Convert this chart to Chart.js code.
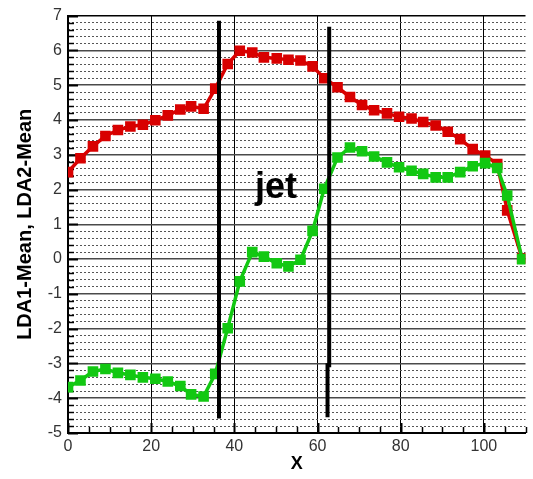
<!DOCTYPE html>
<html><head><meta charset="utf-8">
<script src="https://cdn.jsdelivr.net/npm/chart.js@4/dist/chart.umd.min.js"></script>
<style>html,body{margin:0;padding:0;background:#fff;}</style>
</head><body>
<canvas id="c" width="533" height="479"></canvas>
<script>
const xPositions = [0,3,6,9,12,15,18,21,24,27,29.6,32.6,35.4,38.4,41.3,44.3,47.1,50.2,53,55.9,58.8,61.6,64.8,67.8,70.7,73.6,76.7,79.6,82.6,85.4,88.4,91.3,94.3,97.3,100.3,103.2,105.6,109.2];
const lda1Mean = [2.5,2.9,3.24,3.54,3.71,3.81,3.86,3.99,4.13,4.3,4.39,4.32,4.9,5.61,5.99,5.94,5.8,5.77,5.73,5.71,5.54,5.2,4.94,4.66,4.43,4.28,4.19,4.09,4.04,3.94,3.84,3.66,3.45,3.16,2.98,2.73,1.4,0.02];
const lda2Mean = [-3.68,-3.49,-3.23,-3.16,-3.27,-3.33,-3.40,-3.44,-3.52,-3.65,-3.89,-3.95,-3.30,-1.99,-0.64,0.2,0.07,-0.12,-0.21,-0.02,0.81,2.02,2.92,3.21,3.1,2.95,2.78,2.64,2.54,2.45,2.35,2.35,2.5,2.67,2.76,2.62,1.83,0.0];
const jetLeftX = [36.3, 36.3];
const jetLeftY = [6.85, -4.58];
const jetRightX = [62.8, 62.8, 62.4, 62.4];
const jetRightY = [6.68, -3.05, -3.05, -4.55];
const jetLabel = {text: 'jet', x: 50, y: 1.75};
const xTickStep = 20, xMinorStep = 5;
const yTickStep = 1, yMinorStep = 0.2;
const xRange = [0, 110], yRange = [-5, 7];

const pts = (xs, ys) => xs.map((x, i) => ({x, y: ys[i]}));

const decor = {
  id: 'decor',
  beforeDatasetsDraw(chart) {
    const {ctx, chartArea: a, scales: {x, y}} = chart;
    ctx.save();
    ctx.strokeStyle = '#000';
    for (let v = xRange[0]; v <= xRange[1] + 1e-9; v += xMinorStep) {
      const px = Math.round(x.getPixelForValue(v)) + 0.5;
      const major = Math.abs(v % xTickStep) < 1e-9;
      ctx.lineWidth = major ? 2 : 1.5;
      ctx.beginPath(); ctx.moveTo(px, a.bottom); ctx.lineTo(px, a.bottom - (major ? 10 : 6)); ctx.stroke();
    }
    for (let k = 0; k <= Math.round((yRange[1] - yRange[0]) / yMinorStep); k++) {
      const v = yRange[0] + k * yMinorStep;
      const py = Math.round(y.getPixelForValue(v)) + 0.5;
      const major = Math.abs(v - Math.round(v)) < 1e-6;
      ctx.lineWidth = major ? 2 : 1.5;
      ctx.beginPath(); ctx.moveTo(a.left, py); ctx.lineTo(a.left + (major ? 10 : 6), py); ctx.stroke();
    }
    ctx.restore();
  },
  afterDatasetsDraw(chart) {
    const {ctx, scales: {x, y}} = chart;
    ctx.save();
    ctx.fillStyle = '#000';
    ctx.font = 'bold 36px "Liberation Sans", Arial, sans-serif';
    ctx.textAlign = 'center';
    ctx.textBaseline = 'alphabetic';
    ctx.fillText(jetLabel.text, x.getPixelForValue(jetLabel.x), y.getPixelForValue(jetLabel.y));
    ctx.restore();
  }
};

new Chart(document.getElementById('c'), {
  type: 'line',
  data: {
    datasets: [
      {label: 'jet1', data: pts(jetLeftX, jetLeftY), borderColor: '#000', borderWidth: 4, pointRadius: 0, order: 0},
      {label: 'jet2', data: pts(jetRightX, jetRightY), borderColor: '#000', borderWidth: 4, pointRadius: 0, order: 0},
      {label: 'LDA2-Mean', data: pts(xPositions, lda2Mean), borderColor: '#12c812', backgroundColor: '#12c812',
       borderWidth: 3.5, pointStyle: 'rect', pointRadius: 7.5, pointBorderWidth: 0, order: 1},
      {label: 'LDA1-Mean', data: pts(xPositions, lda1Mean), borderColor: '#d80000', backgroundColor: '#d80000',
       borderWidth: 3.5, pointStyle: 'rect', pointRadius: 7.5, pointBorderWidth: 0, order: 2}
    ]
  },
  options: {
    responsive: false, animation: false, devicePixelRatio: 1,
    layout: {padding: {top: 12, right: 3, left: 0, bottom: 0}},
    plugins: {legend: {display: false}, tooltip: {enabled: false}},
    scales: {
      x: {
        type: 'linear', min: xRange[0], max: xRange[1],
        ticks: {stepSize: xTickStep, includeBounds: false, color: '#333', padding: 4,
                font: {family: '"Liberation Sans", Arial, sans-serif', size: 16}},
        grid: {color: '#000', lineWidth: 1, drawTicks: false},
        border: {color: '#000', width: 2},
        title: {display: true, text: 'X', color: '#000', padding: {top: 0, bottom: 4},
                font: {family: '"Liberation Sans", Arial, sans-serif', size: 18, weight: 'bold'}},
        afterFit(s) { s.height = 46; }
      },
      y: {
        type: 'linear', position: 'left', min: yRange[0], max: yRange[1],
        ticks: {stepSize: yTickStep, color: '#333', padding: 6,
                font: {family: '"Liberation Sans", Arial, sans-serif', size: 16}},
        grid: {color: c => c.tick && c.tick.value === yRange[1] ? '#000' : '#4a4a4a', lineWidth: 1.5, drawTicks: false},
        border: {color: '#000', width: 2},
        title: {display: true, text: 'LDA1-Mean, LDA2-Mean', color: '#000', padding: {top: 13, bottom: 0},
                font: {family: '"Liberation Sans", Arial, sans-serif', size: 20, weight: 'bold'}},
        afterFit(s) { s.width = 68; }
      },
      yMinor: {
        type: 'linear', position: 'left', min: yRange[0], max: yRange[1],
        ticks: {stepSize: yMinorStep, display: false},
        grid: {color: c => (c.tick && Math.abs(c.tick.value - Math.round(c.tick.value)) < 1e-6) ? 'rgba(0,0,0,0)' : '#555',
               lineWidth: 1, drawTicks: false},
        border: {display: false, dash: [2, 2]},
        afterFit(s) { s.width = 0; }
      }
    }
  },
  plugins: [decor]
});
</script>
</body></html>
